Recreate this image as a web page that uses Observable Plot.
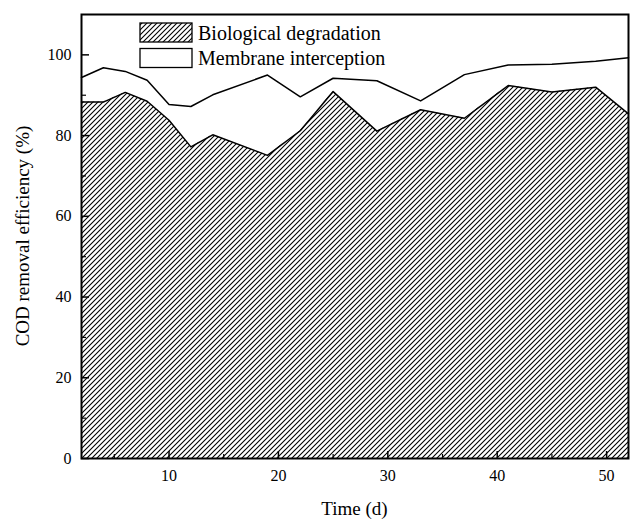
<!DOCTYPE html>
<html>
<head>
<meta charset="utf-8">
<script src="https://cdn.jsdelivr.net/npm/d3@7"></script>
<script src="https://cdn.jsdelivr.net/npm/@observablehq/plot@0.6"></script>
<style>
  html, body { margin: 0; padding: 0; background: #fff; }
  #chart { width: 630px; height: 521px; }
</style>
</head>
<body>
<div id="chart"></div>
<script>
// Data
const days = [2, 4, 6, 8, 10, 12, 14, 19, 22, 25, 29, 33, 37, 41, 45, 49, 52];
const totalRemoval = [94.4, 96.8, 95.9, 93.7, 87.7, 87.2, 90.1, 95.0, 89.6, 94.2, 93.6, 88.6, 95.1, 97.5, 97.7, 98.4, 99.3];
const bioDegradation = [88.3, 88.3, 90.7, 88.5, 83.8, 77.2, 80.2, 75.1, 81.2, 90.9, 81.1, 86.4, 84.3, 92.4, 90.8, 92.0, 85.4];
const seriesNames = ["Biological degradation", "Membrane interception"];
const xMajor = [10, 20, 30, 40, 50];
const xMinor = [5, 15, 25, 35, 45];
const yMajor = [0, 20, 40, 60, 80, 100];
const yMinor = [10, 30, 50, 70, 90];
const xTitle = "Time (d)";
const yTitle = "COD removal efficiency (%)";

const rows = days.map((d, i) => ({day: d, total: totalRemoval[i], bio: bioDegradation[i]}));

const W = 630, H = 521;
const mL = 81, mR = 2, mT = 14, mB = 63;
const fw = W - mL - mR, fh = H - mT - mB;
const font = "'Liberation Serif', 'Times New Roman', serif";

const plot = Plot.plot({
  width: W,
  height: H,
  marginLeft: mL, marginRight: mR, marginTop: mT, marginBottom: mB,
  style: {fontFamily: font, background: "#fff", color: "#000"},
  x: {domain: [2, 52]},
  y: {domain: [0, 110]},
  marks: [
    Plot.areaY(rows, {x: "day", y: "total", fill: "#fff"}),
    Plot.areaY(rows, {x: "day", y: "bio", fill: "url(#hatch)"}),
    Plot.lineY(rows, {x: "day", y: "total", stroke: "#000", strokeWidth: 1.5}),
    Plot.lineY(rows, {x: "day", y: "bio", stroke: "#000", strokeWidth: 1.5}),
    // inward ticks
    Plot.tickX(xMajor, {x: d => d, stroke: "#000", strokeWidth: 1.5, insetTop: fh - 7}),
    Plot.tickX(xMinor, {x: d => d, stroke: "#000", strokeWidth: 1.2, insetTop: fh - 4}),
    Plot.tickY(yMajor, {y: d => d, stroke: "#000", strokeWidth: 1.5, insetRight: fw - 8}),
    Plot.tickY(yMinor, {y: d => d, stroke: "#000", strokeWidth: 1.2, insetRight: fw - 5}),
    Plot.axisX(xMajor, {tickSize: 0, tickPadding: 11, fontSize: 16, label: null}),
    Plot.axisY(yMajor, {tickSize: 0, tickPadding: 10, fontSize: 16, label: null}),
    Plot.frame({stroke: "#000", strokeWidth: 2})
  ]
});

const svg = d3.select(plot);
const defs = svg.insert("defs", ":first-child");
const pat = defs.append("pattern")
  .attr("id", "hatch")
  .attr("patternUnits", "userSpaceOnUse")
  .attr("width", 5).attr("height", 5);
pat.append("rect").attr("width", 5).attr("height", 5).attr("fill", "#fff");
pat.append("path")
  .attr("d", "M-1,6 L6,-1 M-1,1 L1,-1 M4,6 L6,4")
  .attr("stroke", "#000").attr("stroke-width", 1.1);

// Axis titles
svg.append("text")
  .attr("x", mL + fw / 2).attr("y", 515)
  .attr("text-anchor", "middle")
  .attr("font-family", font).attr("font-size", 19)
  .attr("fill", "#000")
  .text(xTitle);
svg.append("text")
  .attr("transform", `translate(29,${mT + fh / 2}) rotate(-90)`)
  .attr("text-anchor", "middle")
  .attr("font-family", font).attr("font-size", 19)
  .attr("fill", "#000")
  .text(yTitle);

// Legend
const leg = svg.append("g").attr("font-family", font).attr("font-size", 20).attr("text-anchor", "start");
const fills = ["url(#hatch)", "#fff"];
seriesNames.forEach((name, i) => {
  const y0 = 23 + i * 25.5;
  leg.append("rect").attr("x", 140).attr("y", y0).attr("width", 52).attr("height", 19)
    .attr("fill", fills[i]).attr("stroke", "#000").attr("stroke-width", 1.3);
  leg.append("text").attr("x", 198).attr("y", y0 + 16.5).attr("fill", "#000")
    .attr("text-anchor", "start").text(name);
});

document.getElementById("chart").appendChild(plot);
</script>
</body>
</html>
